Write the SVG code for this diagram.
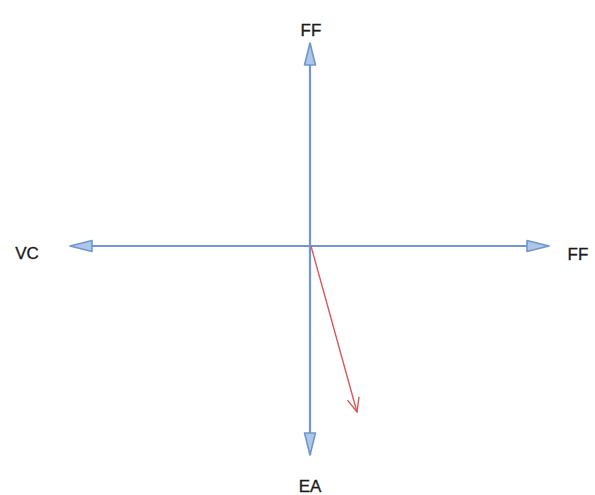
<svg xmlns="http://www.w3.org/2000/svg" width="595" height="495" viewBox="0 0 595 495">
<style>
.ax{stroke:#6f97cf;stroke-width:2.2;fill:none}
.red{stroke:#d9585a;stroke-width:1.4;fill:none}
.lbl{font-family:"Liberation Sans",Arial,sans-serif;font-size:17px;fill:#1a1a1a;text-anchor:middle;stroke:#1a1a1a;stroke-width:0.3}
</style>
<defs>
<marker id="tri" viewBox="0 0 24 14" refX="23" refY="7" markerWidth="24" markerHeight="14" markerUnits="userSpaceOnUse" orient="auto">
<path d="M1,1.5 L23,7 L1,12.5 Z" fill="#aec6e8" stroke="#6f97cf" stroke-width="1.6" stroke-linejoin="round"/>
</marker>
<marker id="vee" viewBox="0 0 16 14" refX="15" refY="7" markerWidth="16" markerHeight="14" markerUnits="userSpaceOnUse" orient="auto">
<path d="M1,1 L15,7 L1,13" fill="none" stroke="#d9585a" stroke-width="1.4"/>
</marker>
</defs>
<rect width="595" height="495" fill="#fff"/>
<g id="connectors">
<line class="ax" x1="310" y1="246" x2="310" y2="43" marker-end="url(#tri)"/>
<line class="ax" x1="310" y1="246" x2="310" y2="455" marker-end="url(#tri)"/>
<line class="ax" x1="310" y1="246" x2="70" y2="246" marker-end="url(#tri)"/>
<line class="ax" x1="310" y1="246" x2="549" y2="246" marker-end="url(#tri)"/>
<line class="red" x1="311" y1="246" x2="357" y2="412" marker-end="url(#vee)"/>
</g>
<g id="label-ff-top"><text class="lbl" x="311" y="36">FF</text></g>
<g id="label-vc"><text class="lbl" x="27" y="259">VC</text></g>
<g id="label-ff-right"><text class="lbl" x="578" y="260">FF</text></g>
<g id="label-ea"><text class="lbl" x="310" y="492">EA</text></g>
</svg>
